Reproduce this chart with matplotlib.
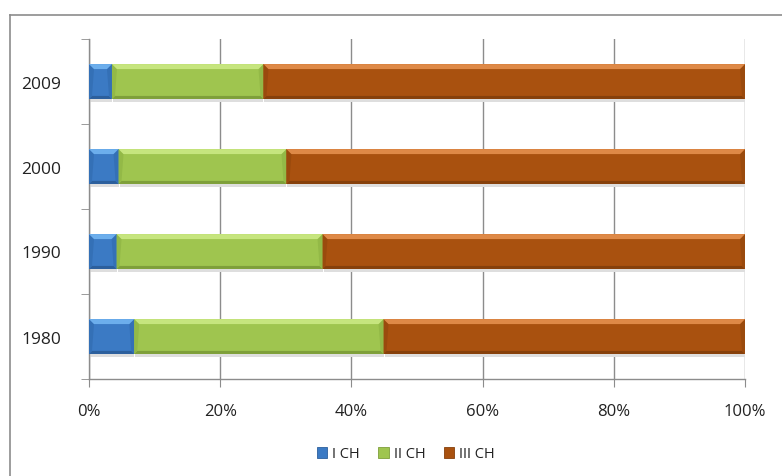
import matplotlib
matplotlib.use("Agg")
import matplotlib.pyplot as plt
from matplotlib.patches import Polygon, Patch
from matplotlib.lines import Line2D
import numpy as np

# Share of each sector by year (percent of total)
years = ["1980", "1990", "2000", "2009"]
sector_names = ["I CH", "II CH", "III CH"]
sector_i = [6.9, 4.2, 4.5, 3.5]
sector_ii = [38.0, 31.4, 25.6, 23.1]
sector_iii = [55.1, 64.4, 69.9, 73.4]
x_ticks = [0, 20, 40, 60, 80, 100]
x_tick_labels = ["0%", "20%", "40%", "60%", "80%", "100%"]

face = ["#3B7AC4", "#9FC54F", "#A9510F"]
light = ["#6CAEEC", "#C6E57E", "#DE8947"]
dark = ["#2C5F9C", "#7E9F3A", "#86400B"]
mid = ["#3470B6", "#93B947", "#9A4A0D"]

plt.rcParams["font.family"] = ["Open Sans", "DejaVu Sans"]

W, H = 782, 477
fig = plt.figure(figsize=(W / 100, H / 100), dpi=100)
ax = fig.add_axes([89 / W, 1 - 380 / H, 656 / W, 340 / H])

ypos = np.arange(len(years))
bar_h = 0.41
series = [sector_i, sector_ii, sector_iii]
left = np.zeros(len(years))
containers = []
for k, vals in enumerate(series):
    c = ax.barh(ypos, vals, left=left, height=bar_h, color=face[k],
                edgecolor="none", zorder=3)
    containers.append(c)
    left = left + np.array(vals)

ax.set_xlim(0, 100)
ax.set_ylim(-0.5, len(years) - 0.5)

# bevelled edges, sized in pixels and converted to data units
px_x = 1 / (ax.transData.transform((1, 0))[0] - ax.transData.transform((0, 0))[0])
px_y = 1 / (ax.transData.transform((0, 1))[1] - ax.transData.transform((0, 0))[1])
tx, ty = 5 * px_x, 5 * px_y
sx, sy = 3 * px_x, 3 * px_y
for k, c in enumerate(containers):
    for r in c.patches:
        x0, y0 = r.get_x(), r.get_y()
        x1, y1 = x0 + r.get_width(), y0 + r.get_height()
        # soft shadow under the bar
        ax.add_patch(Polygon([(x0 + px_x, y0 - 3 * px_y), (x1, y0 - 3 * px_y),
                              (x1, y0), (x0 + px_x, y0)],
                             closed=True, facecolor="#dedede", edgecolor="none", zorder=2))
        ax.add_patch(Polygon([(x0, y0), (x1, y0), (x1 - sx, y0 + sy), (x0 + sx, y0 + sy)],
                             closed=True, facecolor=dark[k], edgecolor="none", zorder=4))
        ax.add_patch(Polygon([(x0, y0), (x0, y1), (x0 + tx, y1 - ty), (x0 + sx, y0 + sy)],
                             closed=True, facecolor=mid[k], edgecolor="none", zorder=4))
        ax.add_patch(Polygon([(x1, y0), (x1, y1), (x1 - tx, y1 - ty), (x1 - sx, y0 + sy)],
                             closed=True, facecolor=mid[k], edgecolor="none", zorder=4))
        ax.add_patch(Polygon([(x0, y1), (x1, y1), (x1 - tx, y1 - ty), (x0 + tx, y1 - ty)],
                             closed=True, facecolor=light[k], edgecolor="none", zorder=5))

grid_c = "#8C8C8C"
for s in ["top", "right"]:
    ax.spines[s].set_visible(False)
for s in ["left", "bottom"]:
    ax.spines[s].set_color(grid_c)
    ax.spines[s].set_linewidth(1.0)

ax.set_xticks(x_ticks)
ax.set_xticklabels(x_tick_labels)
ax.xaxis.grid(True, color=grid_c, linewidth=1.0, zorder=1)
ax.set_axisbelow(True)
ax.tick_params(axis="x", direction="out", length=6, color=grid_c, pad=11,
               labelsize=12, labelcolor="#222222")

ax.set_yticks(ypos)
ax.set_yticklabels(years)
ax.set_yticks(np.arange(len(years) + 1) - 0.5, minor=True)
ax.tick_params(axis="y", which="major", length=0, pad=20, labelsize=12.5,
               labelcolor="#222222")
ax.tick_params(axis="y", which="minor", direction="out", length=6, color=grid_c)

# outer chart frame (left and top edges)
fig.add_artist(Line2D([9.5 / W, 9.5 / W], [0, 1 - 15.5 / H], transform=fig.transFigure,
                      color="#8C8C8C", linewidth=1.2))
fig.add_artist(Line2D([9.5 / W, 1], [1 - 15.5 / H, 1 - 15.5 / H], transform=fig.transFigure,
                      color="#8C8C8C", linewidth=1.2))

handles = [Patch(facecolor=face[k], edgecolor=dark[k], linewidth=0.6) for k in range(3)]
fig.legend(handles, sector_names, loc="center", bbox_to_anchor=(406 / W, 1 - 455 / H),
           ncol=3, frameon=False, fontsize=10.5, handlelength=0.7, handleheight=0.7,
           handletextpad=0.35, columnspacing=1.25, labelcolor="#222222")

fig.savefig("out.png", dpi=100, facecolor="white")
